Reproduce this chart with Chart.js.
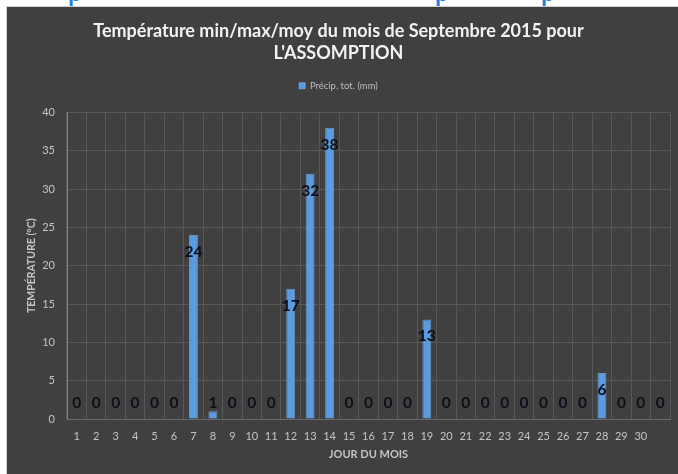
<!DOCTYPE html>
<html>
<head>
<meta charset="utf-8">
<script src="https://cdn.jsdelivr.net/npm/chart.js@4.4.0/dist/chart.umd.min.js"></script>
<style>
html, body { margin: 0; padding: 0; background: #fff; width: 678px; height: 474px; overflow: hidden; }
#top { position: absolute; left: 0; top: 0; width: 678px; height: 6px; overflow: hidden; }
#top span { position: absolute; top: -20px; font: bold 20px 'Open Sans'; color: #1f7fe0; }
#panel { position: absolute; left: 6px; top: 6px; width: 671px; height: 467px; background: #404040;
         border-top: 1px solid #cfcfcf; border-left: 1px solid #cfcfcf; }
canvas { display: block; }
</style>
</head>
<body>
<div id="top"><span style="left:68px">p</span><span style="left:435px">p</span><span style="left:541px">p</span></div>
<div id="panel"><canvas id="myChart" width="671" height="467"></canvas></div>
<script>
// jours du mois (31 colonnes, la dernière sans étiquette)
const days = ['1','2','3','4','5','6','7','8','9','10','11','12','13','14','15','16','17','18','19','20',
              '21','22','23','24','25','26','27','28','29','30',''];
// précipitations totales (mm)
const precip = [0,0,0,0,0,0,24,1,0,0,0,17,32,38,0,0,0,0,13,0,0,0,0,0,0,0,0,6,0,0,0];
const yTicks = { min: 0, max: 40, step: 5 };

const FONT = 'Lato';

// étiquettes de données à l'intérieur du haut des barres
const valueLabels = {
    id: 'valueLabels',
    afterDatasetsDraw(chart) {
        const ctx = chart.ctx;
        const meta = chart.getDatasetMeta(0);
        ctx.save();
        ctx.font = 'bold 15.5px ' + FONT;
        ctx.fillStyle = '#0a0f18';
        ctx.textAlign = 'center';
        ctx.textBaseline = 'middle';
        meta.data.forEach((bar, i) => {
            const y = Math.min(bar.y + 17, bar.base - 16);
            ctx.fillText(String(precip[i]), bar.x, y);
        });
        ctx.restore();
    }
};

// un peu d'espace sous la légende
const legendSpace = {
    id: 'legendSpace',
    beforeInit(chart) {
        const fit = chart.legend.fit;
        chart.legend.fit = function() {
            fit.call(this);
            this.height += 12;
        };
    }
};

const ctx = document.getElementById('myChart').getContext('2d');
const myChart = new Chart(ctx, {
    type: 'bar',
    data: {
        labels: days,
        datasets: [{
            label: 'Précip. tot. (mm)',
            data: precip,
            backgroundColor: '#5a9be1',
            borderColor: 'rgba(130,180,235,0.7)',
            borderWidth: 1,
            barPercentage: 0.46,
            categoryPercentage: 1
        }]
    },
    options: {
        responsive: false,
        animation: false,
        layout: { padding: { left: 0, right: 8, top: 0, bottom: 0 } },
        plugins: {
            title: {
                display: true,
                text: ['Température min/max/moy du mois de Septembre 2015 pour', "L'ASSOMPTION"],
                color: '#f2f2f2',
                font: { family: FONT, size: 18, weight: 'bold', lineHeight: 22 / 18 },
                padding: { top: 13, bottom: 7 }
            },
            legend: {
                labels: {
                    color: '#bfbfbf',
                    boxWidth: 6,
                    boxHeight: 6,
                    padding: 10,
                    font: { family: FONT, size: 9.5 }
                }
            },
            tooltip: { enabled: false }
        },
        scales: {
            x: {
                grid: { color: '#585858', drawTicks: false },
                border: { color: '#6a6a6a' },
                ticks: { color: '#c4c4c4', padding: 11, font: { family: FONT, size: 11 }, maxRotation: 0, autoSkip: false },
                title: {
                    display: true,
                    text: 'JOUR DU MOIS',
                    color: '#c4c4c4',
                    font: { family: FONT, size: 11, weight: 'bold' },
                    padding: { top: 0, bottom: 13 }
                },
                afterFit(scale) { scale.height = 55; }
            },
            y: {
                min: yTicks.min,
                max: yTicks.max,
                grid: { color: '#585858', drawTicks: false },
                border: { color: '#808080' },
                ticks: { stepSize: yTicks.step, color: '#c4c4c4', padding: 12, font: { family: FONT, size: 11 } },
                title: {
                    display: true,
                    text: 'TEMPÉRATURE (°C)',
                    color: '#c4c4c4',
                    font: { family: FONT, size: 10.5, weight: 'bold' },
                    padding: { top: 18, bottom: 0 }
                },
                afterFit(scale) { scale.width = 60; }
            }
        }
    },
    plugins: [valueLabels, legendSpace]
});
</script>
</body>
</html>
